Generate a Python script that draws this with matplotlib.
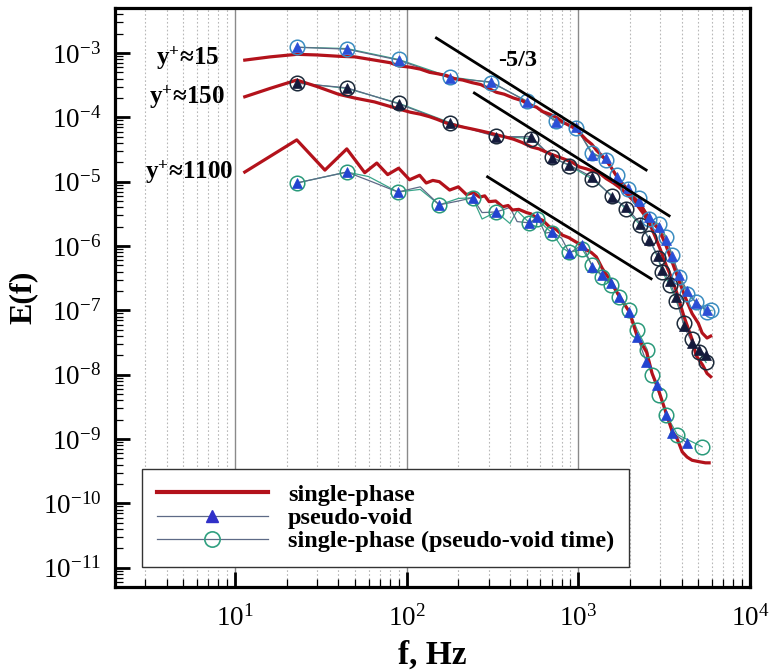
import numpy as np
import matplotlib
matplotlib.use('Agg')
import matplotlib.pyplot as plt
from matplotlib.ticker import LogLocator, NullFormatter, FixedLocator
from matplotlib.lines import Line2D

plt.rcParams['font.family'] = ['Liberation Serif', 'DejaVu Serif']
plt.rcParams['mathtext.fontset'] = 'custom'
plt.rcParams['mathtext.rm'] = 'Liberation Serif'
plt.rcParams['mathtext.it'] = 'Liberation Serif:italic'
plt.rcParams['mathtext.bf'] = 'Liberation Serif:bold'

# ---------------- data (frequency in Hz, log10 of E(f)) ----------------
# y+ ~ 15
g1_red_f = [11.4, 16, 22.9, 30, 40, 50, 65, 80, 90, 105, 120, 136, 150, 171, 190, 212, 240, 270, 300, 333,
            370, 420, 470, 519, 570, 620, 680, 745, 820, 923, 1000, 1114, 1200, 1274, 1400, 1530, 1730, 1900,
            2100, 2355, 2600, 2960, 3250, 3520, 3870, 4200, 4600, 5000, 5260, 5620, 5900]
g1_red_logE = [-3.11, -3.06, -3.02, -3.03, -3.05, -3.06, -3.11, -3.15, -3.20, -3.22, -3.25, -3.30, -3.32, -3.35,
               -3.40, -3.42, -3.46, -3.49, -3.55, -3.61, -3.64, -3.70, -3.74, -3.81, -3.84, -3.91, -3.95, -4.00,
               -4.08, -4.15, -4.22, -4.35, -4.42, -4.51, -4.62, -4.75, -4.98, -5.10, -5.25, -5.40, -5.58, -5.75,
               -6.00, -6.25, -6.55, -6.80, -7.05, -7.20, -7.35, -7.43, -7.40]
g1_pv_f = [22.9, 44.8, 89.8, 178, 312, 505, 745, 973, 1206, 1455, 1687, 1950, 2250, 2590, 2960, 3250, 3520,
           3870, 4300, 4850, 5620]
g1_pv_logE = [-2.91, -2.94, -3.11, -3.39, -3.45, -3.76, -4.07, -4.15, -4.58, -4.63, -4.93, -5.10, -5.30, -5.55,
              -5.70, -5.90, -6.15, -6.45, -6.70, -6.88, -7.00]
g1_spt_f = [22.9, 44.8, 89.8, 178, 312, 505, 745, 973, 1206, 1455, 1687, 1950, 2250, 2590, 2960, 3250, 3520,
            3870, 4300, 4850, 5620, 5930]
g1_spt_logE = [-2.91, -2.93, -3.10, -3.37, -3.46, -3.75, -4.05, -4.17, -4.55, -4.66, -4.90, -5.12, -5.25, -5.58,
               -5.66, -5.86, -6.14, -6.48, -6.75, -6.87, -7.02, -7.00]

# y+ ~ 150
g2_red_f = [11.4, 16, 22.9, 30, 40, 50, 65, 80, 90, 105, 120, 136, 150, 171, 190, 212, 240, 270, 302, 333,
            370, 420, 470, 533, 590, 650, 706, 776, 850, 923, 1013, 1114, 1200, 1319, 1450, 1600, 1717, 1900,
            2100, 2235, 2400, 2600, 2800, 3000, 3250, 3500, 3720, 4130, 4600, 4850, 5300, 5620, 5900]
g2_red_logE = [-3.68, -3.55, -3.42, -3.52, -3.64, -3.70, -3.76, -3.83, -3.87, -3.92, -3.95, -3.99, -4.03, -4.09,
               -4.12, -4.15, -4.18, -4.21, -4.24, -4.27, -4.30, -4.34, -4.39, -4.46, -4.49, -4.54, -4.58, -4.62,
               -4.66, -4.70, -4.77, -4.80, -4.83, -4.86, -4.95, -5.02, -5.08, -5.18, -5.30, -5.39, -5.50, -5.65,
               -5.85, -6.05, -6.30, -6.50, -6.70, -7.10, -7.45, -7.70, -7.85, -7.98, -8.03]
g2_pv_f = [22.9, 44.8, 89.8, 178, 333, 533, 706, 887, 1206, 1578, 1900, 2300, 2590, 2900, 3080, 3400, 3720,
           4130, 4600, 5050, 5550]
g2_pv_logE = [-3.47, -3.54, -3.79, -4.09, -4.30, -4.30, -4.63, -4.74, -4.93, -5.24, -5.40, -5.65, -5.90, -6.15,
              -6.37, -6.55, -6.80, -7.25, -7.50, -7.61, -7.70]
g2_spt_f = g2_pv_f
g2_spt_logE = [-3.46, -3.55, -3.78, -4.08, -4.29, -4.33, -4.62, -4.75, -4.96, -5.22, -5.43, -5.68, -5.88, -6.18,
               -6.40, -6.60, -6.85, -7.20, -7.45, -7.65, -7.81]

# y+ ~ 1100
g3_red_f = [11.4, 22.9, 33.4, 44.8, 57, 67, 77.5, 89.8, 104, 119, 130, 142, 155, 178, 200, 223, 245, 266, 285,
            302, 330, 362, 390, 413, 450, 499, 530, 570, 620, 678, 740, 807, 880, 973, 1040, 1114, 1190, 1274,
            1380, 1550, 1730, 1980, 2200, 2500, 2690, 2900, 3250, 3520, 3770, 4030, 4300, 4600, 5000, 5500, 5780]
g3_red_logE = [-4.85, -4.35, -4.82, -4.49, -4.86, -4.71, -4.89, -4.79, -4.97, -4.90, -5.02, -4.98, -5.00, -5.13,
               -5.08, -5.20, -5.17, -5.24, -5.22, -5.31, -5.30, -5.39, -5.37, -5.44, -5.43, -5.48, -5.50, -5.56,
               -5.60, -5.70, -5.74, -5.83, -5.87, -5.94, -5.98, -6.06, -6.10, -6.17, -6.35, -6.55, -6.78, -7.02,
               -7.40, -7.65, -7.98, -8.20, -8.60, -8.88, -9.00, -9.20, -9.28, -9.33, -9.35, -9.37, -9.37]
g3_pv_f = [22.9, 44.8, 60, 88.8, 120, 155, 200, 242, 275, 333, 400, 440, 519, 578, 640, 706, 800, 887, 1055,
           1206, 1380, 1550, 1730, 1980, 2200, 2490, 2880, 3250, 3520, 4300]
g3_pv_logE = [-5.02, -4.85, -4.98, -5.16, -5.08, -5.36, -5.30, -5.25, -5.48, -5.47, -5.40, -5.62, -5.64, -5.55,
              -5.80, -5.78, -5.88, -6.11, -5.98, -6.32, -6.45, -6.58, -6.79, -7.02, -7.41, -7.80, -8.16, -8.62,
              -8.90, -9.06]
g3_spt_f = [22.9, 44.8, 60, 88.8, 120, 155, 200, 242, 275, 333, 400, 440, 519, 578, 640, 706, 800, 887, 1055,
            1206, 1380, 1550, 1730, 1980, 2200, 2520, 2690, 2960, 3250, 3770, 5260]
g3_spt_logE = [-5.02, -4.85, -4.92, -5.16, -5.12, -5.36, -5.26, -5.25, -5.58, -5.47, -5.65, -5.45, -5.64, -5.58,
               -5.70, -5.80, -6.02, -6.10, -6.05, -6.30, -6.48, -6.60, -6.80, -7.00, -7.30, -7.61, -8.00, -8.31,
               -8.62, -8.93, -9.12]
g3_line_only = [2, 4, 6, 8, 10, 11, 14, 16]   # points drawn without a marker

# -5/3 reference slopes: (f_start, E_start, f_end, E_end)
slope_lines = [(149, 1.71e-3, 2483, 1.52e-5),
               (248, 2.39e-4, 3380, 2.95e-6),
               (296, 1.19e-5, 2655, 3.1e-7)]

legend_labels = ['single-phase', 'pseudo-void', 'single-phase (pseudo-void time)']
group_labels = [r'y$^{\mathbf{+}}$≈15', r'y$^{\mathbf{+}}$≈150', r'y$^{\mathbf{+}}$≈1100']
group_label_pos = [(5.26, 10**-3.078), (5.26, 10**-3.683), (5.41, 10**-4.848)]
x_ticks = [10, 100, 1000, 10000]
x_ticklabels = [r'$10^{1}$', r'$10^{2}$', r'$10^{3}$', r'$10^{4}$']
y_exps = list(range(-11, -2))

# ---------------- styling ----------------
RED = '#b3121b'
PV_LINE = '#5d6a86'
SPT_LINE = '#3aa58a'
groups = [
    dict(red=(g1_red_f, g1_red_logE), pv=(g1_pv_f, g1_pv_logE), spt=(g1_spt_f, g1_spt_logE),
         tri='#2b4fd6', circ='#3a8cc0', only=[]),
    dict(red=(g2_red_f, g2_red_logE), pv=(g2_pv_f, g2_pv_logE), spt=(g2_spt_f, g2_spt_logE),
         tri='#141a3c', circ='#1c2a3a', only=[]),
    dict(red=(g3_red_f, g3_red_logE), pv=(g3_pv_f, g3_pv_logE), spt=(g3_spt_f, g3_spt_logE),
         tri='#2244d0', circ='#2a9a7a', only=g3_line_only),
]

fig = plt.figure(figsize=(7.69, 6.72), dpi=100)
ax = fig.add_axes([115 / 769, 85 / 672, 635 / 769, 579 / 672])
ax.set_xscale('log')
ax.set_yscale('log')
ax.set_xlim(2, 1e4)
ax.set_ylim(10 ** -11.3, 10 ** -2.3)

for g in groups:
    for key, lc, in (('spt', SPT_LINE), ('pv', PV_LINE)):
        f, le = g[key]
        ax.plot(f, 10 ** np.array(le), color=lc, lw=0.9, zorder=2)
    f, le = g['red']
    ax.plot(f, 10 ** np.array(le), color=RED, lw=2.3, zorder=3)
    for key in ('spt', 'pv'):
        f, le = g[key]
        idx = [i for i in range(len(f)) if i not in g['only']]
        fm = [f[i] for i in idx]
        em = 10 ** np.array([le[i] for i in idx])
        if key == 'spt':
            ax.plot(fm, em, ls='none', marker='o', ms=10.5, mfc='none', mec=g['circ'], mew=1.1, zorder=4)
        else:
            ax.plot(fm, em, ls='none', marker='^', ms=7, mfc=g['tri'], mec=g['tri'], mew=0.5, zorder=5)

for (f0, e0, f1, e1) in slope_lines:
    ax.plot([f0, f1], [e0, e1], color='black', lw=2.0, zorder=6)

ax.text(442, 10 ** -3.109, '-5/3', fontsize=17.5, fontweight='bold', ha='center', va='center', zorder=7)
for lab, (fx, ey) in zip(group_labels, group_label_pos):
    ax.text(fx, ey, lab, fontsize=18, fontweight='bold', ha='center', va='center', zorder=7)

# axes, ticks, grid
ax.xaxis.set_major_locator(FixedLocator(x_ticks))
ax.set_xticklabels(x_ticklabels)
ax.xaxis.set_minor_locator(LogLocator(base=10, subs=np.arange(2, 10), numticks=100))
ax.xaxis.set_minor_formatter(NullFormatter())
ax.yaxis.set_major_locator(FixedLocator([10.0 ** e for e in y_exps]))
ax.set_yticklabels([r'$10^{%d}$' % e for e in y_exps])
ax.yaxis.set_minor_locator(LogLocator(base=10, subs=np.arange(2, 10), numticks=100))
ax.yaxis.set_minor_formatter(NullFormatter())

ax.tick_params(which='major', direction='in', length=11, width=2.0, labelsize=19.5, top=False, right=False)
ax.tick_params(axis='x', which='major', pad=13)
ax.tick_params(axis='y', which='major', pad=10)
ax.tick_params(which='minor', direction='in', length=6, width=0.9, top=False, right=False)
ax.grid(which='major', axis='x', color='#8a8a8a', lw=1.0, ls='-', zorder=0)
ax.grid(which='minor', axis='x', color='#b8b8b8', lw=0.8, ls=(0, (1.5, 2)), zorder=0)
ax.set_axisbelow(True)
for s in ax.spines.values():
    s.set_linewidth(2.3)

ax.set_xlabel('f, Hz', fontsize=24, fontweight='bold', labelpad=6)
ax.set_ylabel('E(f)', fontsize=23, fontweight='bold', labelpad=4)

handles = [
    Line2D([], [], color=RED, lw=3.0),
    Line2D([], [], color=PV_LINE, lw=0.9, marker='^', ms=8, mfc='#3030c8', mec='#3030c8'),
    Line2D([], [], color=PV_LINE, lw=0.9, marker='o', ms=11, mfc='none', mec='#30a080', mew=1.2),
]
leg = ax.legend(handles, legend_labels, loc='lower left', bbox_to_anchor=(0.0425, 0.0345),
                prop={'family': 'Liberation Serif', 'weight': 'bold', 'size': 17.5},
                handlelength=4.6, handletextpad=0.8, labelspacing=0.05, borderpad=0.6,
                frameon=True, fancybox=False, edgecolor='#333333', framealpha=1, borderaxespad=0)
leg.get_frame().set_linewidth(1.0)
leg.set_zorder(10)

fig.savefig('out.png', dpi=100)
